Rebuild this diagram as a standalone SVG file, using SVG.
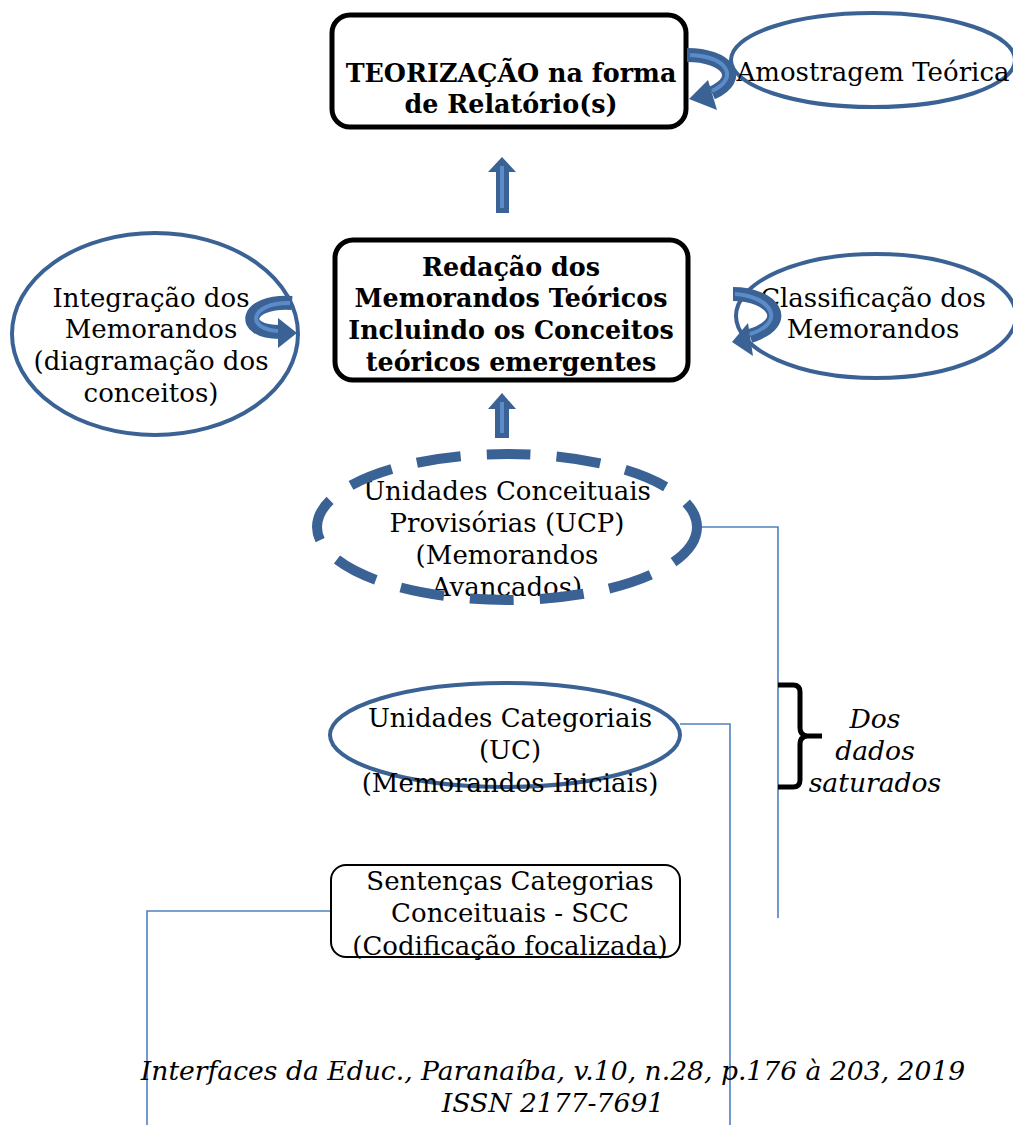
<svg xmlns="http://www.w3.org/2000/svg" width="1013" height="1125" viewBox="0 0 1013 1125">
<defs>
<style>
.t{font-family:"DejaVu Serif","Liberation Serif",serif;font-size:26px;fill:#000;text-anchor:middle}
.b{font-weight:bold;font-size:25.4px}
.i{font-style:italic;font-size:26.6px}
.box{fill:#fff;stroke:#000;stroke-width:5}
.ell{fill:none;stroke:#3A6294;stroke-width:4}
.conn{fill:none;stroke:#4F81BD;stroke-width:1.6}
.band{fill:none;stroke:#3A6294;stroke-width:14;stroke-linecap:butt}
.bandhi{fill:none;stroke:#5B8CC9;stroke-width:4}
.head{fill:#3A6294}
.up{fill:#3A6294}
.uphi{fill:#5B8CC9}
</style>
</defs>
<rect width="1013" height="1125" fill="#fff"/>
<g id="connectors">
<polyline class="conn" points="697,527 778,527 778,918"/>
<polyline class="conn" points="680,724 730,724 730,1125"/>
<polyline class="conn" points="331,911 147,911 147,1125"/>
</g>
<g id="teorizacao">
<rect class="box" x="332" y="15" width="354" height="112" rx="18"/>
<text class="t b" x="511" y="82">TEORIZAÇÃO na forma</text>
<text class="t b" x="511" y="113">de Relatório(s)</text>
</g>
<g id="amostragem">
<ellipse class="ell" cx="873" cy="60" rx="142" ry="47"/>
<text class="t" x="873" y="81">Amostragem Teórica</text>
<path class="band" d="M687 55 C727 55 745 78 712 93"/>
<path class="bandhi" d="M690 55 C727 56 740 78 712 91"/>
<polygon class="head" points="689,99 708,80 717,110"/>
</g>
<g id="arrow-up-1">
<polygon class="up" points="502,157 516,172 509,172 509,213 496,213 496,172 488,172"/>
<rect class="uphi" x="500" y="166" width="4" height="42"/>
</g>
<g id="redacao">
<rect class="box" x="335" y="240" width="353" height="140" rx="18"/>
<text class="t b" x="511" y="276">Redação dos</text>
<text class="t b" x="511" y="307">Memorandos Teóricos</text>
<text class="t b" x="511" y="339">Incluindo os Conceitos</text>
<text class="t b" x="511" y="371">teóricos emergentes</text>
</g>
<g id="integracao">
<ellipse class="ell" cx="155" cy="334" rx="143" ry="101"/>
<text class="t" x="151" y="307">Integração dos</text>
<text class="t" x="151" y="338">Memorandos</text>
<text class="t" x="151" y="370">(diagramação dos</text>
<text class="t" x="151" y="402">conceitos)</text>
<path class="band" d="M292 303 C245 300 238 332 280 332"/>
<path class="bandhi" d="M290 303 C250 302 244 330 280 331"/>
<polygon class="head" points="297,333 278,318 278,348"/>
</g>
<g id="classificacao">
<ellipse class="ell" cx="876" cy="316" rx="140" ry="62"/>
<text class="t" x="873" y="307">Classificação dos</text>
<text class="t" x="873" y="338">Memorandos</text>
<path class="band" d="M733 294 C772 294 794 322 750 336"/>
<path class="bandhi" d="M735 294 C770 296 788 322 750 334"/>
<polygon class="head" points="732,342 748,323 753,356"/>
</g>
<g id="arrow-up-2">
<polygon class="up" points="502,393 516,409 509,409 509,438 495,438 495,409 488,409"/>
<rect class="uphi" x="500" y="402" width="4" height="31"/>
</g>
<g id="ucp">
<text class="t" x="507" y="500">Unidades Conceituais</text>
<text class="t" x="507" y="532">Provisórias (UCP)</text>
<text class="t" x="507" y="564">(Memorandos</text>
<text class="t" x="507" y="596">Avançados)</text>
<ellipse cx="507" cy="527" rx="190" ry="73" fill="none" stroke="#3A6294" stroke-width="10" stroke-dasharray="44,26"/>
</g>
<g id="uc">
<ellipse class="ell" cx="505" cy="735" rx="175" ry="52"/>
<text class="t" x="510" y="727">Unidades Categoriais</text>
<text class="t" x="510" y="759">(UC)</text>
<text class="t" x="510" y="792">(Memorandos Iniciais)</text>
</g>
<g id="bracket">
<path d="M778 685 L793 685 Q800 685 800 692 L800 728 Q800 735 807 736 L822 736 M807 736 Q800 737 800 744 L800 780 Q800 787 793 787 L778 787" fill="none" stroke="#000" stroke-width="5"/>
<text class="t i" x="875" y="728">Dos</text>
<text class="t i" x="875" y="760">dados</text>
<text class="t i" x="875" y="792">saturados</text>
</g>
<g id="scc">
<rect x="331" y="865" width="349" height="92" rx="15" fill="#fff" stroke="#000" stroke-width="2"/>
<text class="t" x="510" y="890">Sentenças Categorias</text>
<text class="t" x="510" y="922">Conceituais - SCC</text>
<text class="t" x="510" y="955">(Codificação focalizada)</text>
</g>
<g id="footer">
<text class="t i" x="553" y="1080">Interfaces da Educ., Paranaíba, v.10, n.28, p.176 à 203, 2019</text>
<text class="t i" x="553" y="1112">ISSN 2177-7691</text>
</g>
</svg>
